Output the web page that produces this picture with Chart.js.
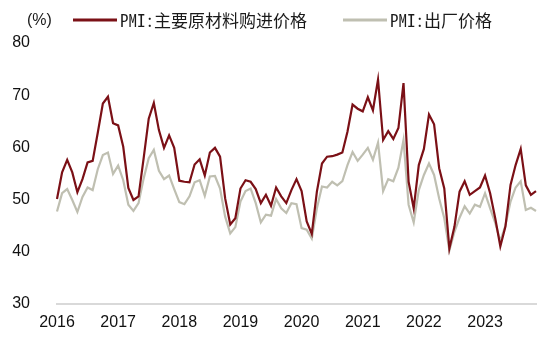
<!DOCTYPE html>
<html>
<head>
<meta charset="utf-8">
<script src="https://cdn.jsdelivr.net/npm/chart.js@4.4.1/dist/chart.umd.min.js"></script>
<style>
    html, body { margin: 0; padding: 0; background: #fff; }
    #wrap { width: 550px; height: 352px; }
</style>
</head>
<body>
<div id="wrap"><canvas id="pmiChart"></canvas></div>
<script>
// monthly, 2016-02 .. 2023-12
const START_YEAR = 2016;
const START_MONTH = 2;

const inputPrice2016 = [50.1, 55.2, 57.6, 55.2, 51.4, 53.9, 57.1, 57.4, 62.8, 68.4, 69.7];
const inputPrice2017 = [64.6, 64.2, 60.1, 52.2, 49.9, 50.6, 57.9, 65.5, 68.5, 63.3, 59.9, 62.3];
const inputPrice2018 = [59.9, 53.6, 53.4, 53.3, 56.7, 57.7, 54.6, 59.0, 59.9, 58.2, 50.2, 45.2];
const inputPrice2019 = [46.4, 52.1, 53.7, 53.4, 52.0, 49.3, 50.9, 48.8, 52.3, 50.6, 49.3, 51.8];
const inputPrice2020 = [53.9, 51.6, 45.8, 43.4, 51.5, 56.9, 58.2, 58.3, 58.6, 59.0, 63.0, 68.2];
const inputPrice2021 = [67.4, 66.9, 69.6, 67.1, 73.0, 61.4, 63.1, 61.6, 63.7, 72.3, 53.4, 48.3];
const inputPrice2022 = [56.6, 59.7, 66.3, 64.4, 56.0, 52.1, 40.6, 44.8, 51.5, 53.5, 50.9, 51.6];
const inputPrice2023 = [52.3, 54.6, 51.2, 46.4, 41.0, 44.8, 52.8, 56.6, 59.7, 52.7, 50.9, 51.6];

const outputPrice2016 = [47.7, 51.2, 52.0, 49.9, 47.6, 50.5, 52.3, 51.8, 55.8, 58.5, 59.0];
const outputPrice2017 = [54.9, 56.5, 53.7, 49.0, 47.8, 49.3, 54.0, 57.9, 59.5, 55.5, 53.9, 54.6];
const outputPrice2018 = [52.0, 49.5, 49.1, 50.6, 53.3, 53.7, 50.7, 54.4, 54.5, 52.1, 46.7, 43.5];
const outputPrice2019 = [44.7, 49.6, 51.6, 52.1, 49.3, 45.6, 47.1, 46.9, 50.1, 48.3, 47.4, 49.3];
const outputPrice2020 = [49.1, 44.5, 44.2, 42.5, 48.3, 52.5, 52.3, 53.4, 52.7, 53.5, 56.6, 59.1];
const outputPrice2021 = [57.4, 58.6, 59.9, 57.6, 60.9, 51.6, 53.9, 53.5, 56.1, 61.4, 49.0, 45.6];
const outputPrice2022 = [51.8, 54.7, 56.9, 54.7, 50.2, 46.4, 40.2, 43.8, 46.5, 48.7, 47.3, 49.0];
const outputPrice2023 = [48.6, 51.2, 48.3, 45.5, 42.0, 45.0, 49.6, 52.3, 53.5, 48.0, 48.4, 47.8];

const inputPrice = [].concat(inputPrice2016, inputPrice2017, inputPrice2018, inputPrice2019,
    inputPrice2020, inputPrice2021, inputPrice2022, inputPrice2023);
const outputPrice = [].concat(outputPrice2016, outputPrice2017, outputPrice2018, outputPrice2019,
    outputPrice2020, outputPrice2021, outputPrice2022, outputPrice2023);

const yTicks = [30, 40, 50, 60, 70, 80];

const seriesNames = ["PMI:主要原材料购进价格", "PMI:出厂价格"];
const seriesColors = ["#7b1016", "#bfbfb1"];
const unitLabel = "(%)";

function buildMonths(count) {
    const labels = [];
    for (let i = 0; i < count; i++) {
        const m = START_MONTH - 1 + i;
        const year = START_YEAR + Math.floor(m / 12);
        const month = (m % 12) + 1;
        labels.push(`${year}-${String(month).padStart(2, "0")}`);
    }
    return labels;
}

const months = buildMonths(inputPrice.length);

// legend + unit label drawn on top, like the original
const topLegend = {
    id: "topLegend",
    afterDraw(chart) {
        const ctx = chart.ctx;
        const y = 20.5;
        ctx.save();
        ctx.textBaseline = "middle";
        ctx.fillStyle = "#1a1a1a";
        ctx.font = '16px "Liberation Sans", Arial, sans-serif';
        ctx.fillText(unitLabel, 27, y);

        ctx.font = '17px "Noto Sans Mono CJK SC", "Noto Sans CJK SC", sans-serif';
        const starts = [73, 343];
        chart.data.datasets.forEach((ds, i) => {
            const x = starts[i];
            ctx.strokeStyle = ds.borderColor;
            ctx.lineWidth = 3;
            ctx.beginPath();
            ctx.moveTo(x, y - 0.5);
            ctx.lineTo(x + 44, y - 0.5);
            ctx.stroke();
            ctx.fillStyle = "#1a1a1a";
            ctx.fillText(ds.label, x + 47, y);
        });
        ctx.restore();
    }
};

function drawChart() {
    const canvas = document.getElementById("pmiChart");
    new Chart(canvas, {
        type: "line",
        data: {
            labels: months,
            datasets: [
                {
                    label: seriesNames[0],
                    data: inputPrice,
                    borderColor: seriesColors[0],
                    borderWidth: 2.2,
                    pointRadius: 0,
                    tension: 0,
                    fill: false
                },
                {
                    label: seriesNames[1],
                    data: outputPrice,
                    borderColor: seriesColors[1],
                    borderWidth: 2.2,
                    pointRadius: 0,
                    tension: 0,
                    fill: false
                }
            ]
        },
        options: {
            responsive: true,
            maintainAspectRatio: false,
            animation: false,
            layout: {
                padding: { top: 43, right: 14, bottom: 11, left: 0 }
            },
            plugins: {
                legend: { display: false },
                tooltip: { enabled: false }
            },
            scales: {
                x: {
                    grid: { display: false, drawTicks: false },
                    border: { display: true, color: "#d9d9d9", width: 2 },
                    ticks: {
                        autoSkip: false,
                        maxRotation: 0,
                        padding: 9,
                        color: "#111",
                        font: { family: '"Liberation Sans", Arial, sans-serif', size: 16 },
                        callback: (value, index) => (index % 12 === 0 ? months[index].slice(0, 4) : null)
                    }
                },
                y: {
                    min: yTicks[0],
                    max: yTicks[yTicks.length - 1],
                    afterFit(scale) { scale.width = 57; },
                    afterBuildTicks(scale) { scale.ticks = yTicks.map(v => ({ value: v })); },
                    grid: { display: false, drawTicks: false },
                    border: { display: false },
                    ticks: {
                        padding: 27,
                        color: "#111",
                        font: { family: '"Liberation Sans", Arial, sans-serif', size: 16 }
                    }
                }
            }
        },
        plugins: [topLegend]
    });
}

document.addEventListener("DOMContentLoaded", drawChart);
</script>
</body>
</html>
